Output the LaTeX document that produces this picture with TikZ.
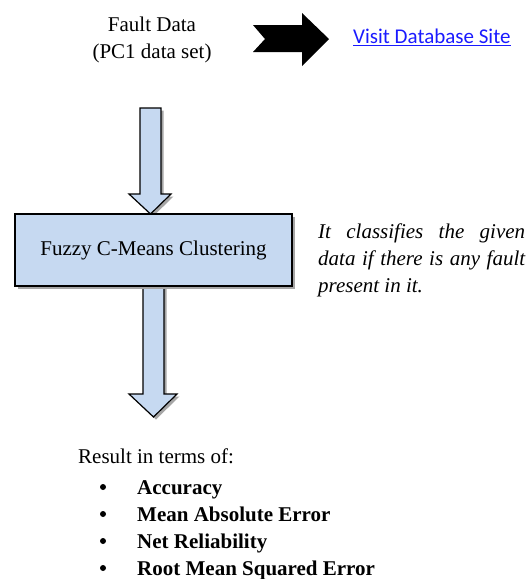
\documentclass[tikz,border=0pt]{standalone}
\usepackage{fontspec}
\setmainfont{Liberation Serif}
\newfontfamily\linkfont{Carlito}
\usetikzlibrary{shadows}
\definecolor{boxfill}{HTML}{C6D9F1}
\definecolor{shadowgray}{HTML}{A6A6A6}
\definecolor{linkblue}{HTML}{1A1AFF}
\begin{document}
\begin{tikzpicture}[x=1pt,y=-1pt,
  txt/.style={font=\fontsize{21}{27}\selectfont, inner sep=0pt},
  blockarrow/.style={fill=boxfill, draw=black, line width=1.2pt, line join=miter},
  arrowshadow/.style={fill=shadowgray},
  bulletmark/.style={circle, fill=black, inner sep=0pt, minimum size=6pt},
  itemtext/.style={txt, anchor=base west, font=\fontsize{21}{27}\selectfont\bfseries}]
\useasboundingbox (0,0) rectangle (527,579);

% top text
\node[txt, anchor=base] (fault1) at (152,31) {Fault Data};
\node[txt, anchor=base] (fault2) at (152,58) {(PC1 data set)};

% black notched arrow
\fill[black] (253,25) -- (302,25) -- (302,13) -- (329,39) -- (302,66) -- (302,52) -- (253,52) -- (265,39) -- cycle;

% link
\node[txt, anchor=base west, text=linkblue, font=\fontsize{21}{27}\linkfont] (link) at (353,43) {Visit Database Site};
\draw[linkblue, line width=1.3pt] ([yshift=-2.5pt]link.base west) -- ([yshift=-2.5pt]link.base east);

% top block arrow
\fill[arrowshadow, shift={(2.5,2.5)}] (140,108) -- (161,108) -- (161,194) -- (171,194) -- (150.5,214) -- (129,194) -- (140,194) -- cycle;
\path[blockarrow] (140,108) -- (161,108) -- (161,194) -- (171,194) -- (150.5,214) -- (129,194) -- (140,194) -- cycle;

% bottom block arrow
\fill[arrowshadow, shift={(2.5,2.5)}] (143,286) -- (164,286) -- (164,394) -- (177,394) -- (153.5,417) -- (129,394) -- (143,394) -- cycle;
\path[blockarrow] (143,286) -- (164,286) -- (164,394) -- (177,394) -- (153.5,417) -- (129,394) -- (143,394) -- cycle;

% box
\node[txt, draw=black, line width=1.2pt, fill=boxfill, minimum width=277pt, minimum height=72pt,
      drop shadow={shadow xshift=3pt, shadow yshift=-3pt, fill=shadowgray, opacity=1}] (fcm) at (153.5,250) {Fuzzy C-Means Clustering};

% description
\node[txt, anchor=base west, font=\fontsize{21}{27}\selectfont\itshape] (desc1) at (318,238) {\makebox[207pt][s]{It classifies the given}};
\node[txt, anchor=base west, font=\fontsize{21}{27}\selectfont\itshape] (desc2) at (318,265) {\makebox[207pt][s]{data if there is any fault}};
\node[txt, anchor=base west, font=\fontsize{21}{27}\selectfont\itshape] (desc3) at (318,292) {present in it.};

% results
\node[txt, anchor=base west] (res) at (78,463) {Result in terms of:};
\node[bulletmark] (b1) at (103,487) {};
\node[itemtext] (i1) at (137,494) {Accuracy};
\node[bulletmark] (b2) at (103,514) {};
\node[itemtext] (i2) at (137,521) {Mean Absolute Error};
\node[bulletmark] (b3) at (103,541) {};
\node[itemtext] (i3) at (137,548) {Net Reliability};
\node[bulletmark] (b4) at (103,568) {};
\node[itemtext] (i4) at (137,575) {Root Mean Squared Error};
\end{tikzpicture}
\end{document}
